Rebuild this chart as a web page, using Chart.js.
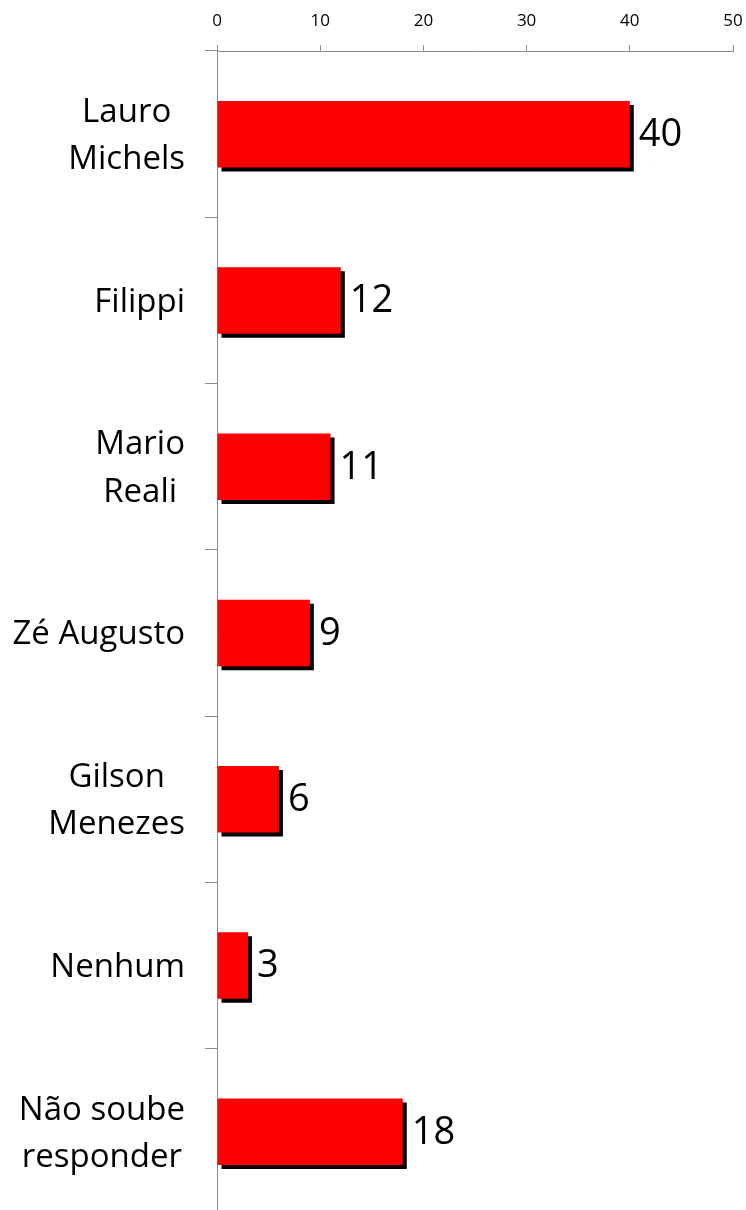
<!DOCTYPE html>
<html>
<head>
<meta charset="utf-8">
<script src="https://cdn.jsdelivr.net/npm/chart.js@4.4.1/dist/chart.umd.min.js"></script>
<style>
  html, body { margin: 0; padding: 0; background: #fff; overflow: hidden; }
  #wrap { position: relative; width: 746px; height: 1216px; }
</style>
</head>
<body>
<div id="wrap"><canvas id="chart"></canvas></div>
<script>
// categories (multi-line labels) and values
const categories = [
    ['Lauro', 'Michels'],
    ['Filippi'],
    ['Mario', 'Reali'],
    ['Zé Augusto'],
    ['Gilson', 'Menezes'],
    ['Nenhum'],
    ['Não soube', 'responder']
];
const values = [40, 12, 11, 9, 6, 3, 18];
const xTicks = [0, 10, 20, 30, 40, 50];

const AXIS_GRAY = '#8c8c8c';
const FONT = '"Open Sans", "DejaVu Sans", sans-serif';

// black drop shadow behind the bars
const shadowPlugin = {
    id: 'barShadow',
    beforeDatasetsDraw(chart) {
        const ctx = chart.ctx;
        ctx.save();
        ctx.shadowColor = '#000';
        ctx.shadowOffsetX = 4;
        ctx.shadowOffsetY = 4;
        ctx.shadowBlur = 0;
    },
    afterDatasetsDraw(chart) {
        chart.ctx.restore();
    }
};

// value labels at bar ends
const valueLabels = {
    id: 'valueLabels',
    afterDatasetsDraw(chart) {
        const ctx = chart.ctx;
        const meta = chart.getDatasetMeta(0);
        ctx.save();
        ctx.font = '38px ' + FONT;
        ctx.fillStyle = '#000';
        ctx.textAlign = 'left';
        ctx.textBaseline = 'middle';
        meta.data.forEach((bar, i) => {
            ctx.fillText(String(values[i]), bar.x + 9, bar.y + 1);
        });
        ctx.restore();
    }
};

// category labels: block right aligned, lines centred inside the block
const categoryLabels = {
    id: 'categoryLabels',
    afterDraw(chart) {
        const ctx = chart.ctx;
        const yScale = chart.scales.y;
        const rightEdge = 185;
        const lineH = 47.5;
        ctx.save();
        ctx.font = '33px ' + FONT;
        ctx.fillStyle = '#000';
        ctx.textAlign = 'center';
        ctx.textBaseline = 'middle';
        categories.forEach((lines, i) => {
            const cy = yScale.getPixelForValue(i) + 2;
            const w = Math.max(...lines.map(l => ctx.measureText(l).width));
            const cx = rightEdge - w / 2;
            lines.forEach((line, j) => {
                ctx.fillText(line, cx, cy + (j - (lines.length - 1) / 2) * lineH);
            });
        });
        ctx.restore();
    }
};

new Chart(document.getElementById('chart'), {
    type: 'bar',
    data: {
        labels: categories.map(c => c.join(' ')),
        datasets: [{
            data: values,
            backgroundColor: '#ff0000',
            borderWidth: 0,
            categoryPercentage: 1,
            barPercentage: 0.4
        }]
    },
    options: {
        indexAxis: 'y',
        responsive: true,
        maintainAspectRatio: false,
        animation: false,
        layout: { padding: { top: 0, right: 13, bottom: 1, left: 0 } },
        plugins: {
            legend: { display: false },
            tooltip: { enabled: false }
        },
        scales: {
            x: {
                position: 'top',
                min: 0,
                max: 50,
                afterBuildTicks(scale) {
                    scale.ticks = xTicks.map(v => ({ value: v }));
                },
                afterFit(scale) {
                    scale.height = 51;
                    scale.paddingLeft = 0;
                    scale.paddingRight = 0;
                },
                ticks: {
                    padding: 14,
                    color: '#000',
                    font: { family: FONT, size: 17 }
                },
                grid: {
                    drawOnChartArea: false,
                    tickLength: 6,
                    color: AXIS_GRAY
                },
                border: { color: AXIS_GRAY }
            },
            y: {
                afterFit(scale) {
                    scale.width = 217;
                    scale.paddingTop = 0;
                    scale.paddingBottom = 0;
                },
                ticks: { display: false },
                grid: {
                    drawOnChartArea: false,
                    offset: true,
                    tickLength: 12,
                    color: AXIS_GRAY
                },
                border: { color: AXIS_GRAY }
            }
        }
    },
    plugins: [shadowPlugin, valueLabels, categoryLabels]
});
</script>
</body>
</html>
